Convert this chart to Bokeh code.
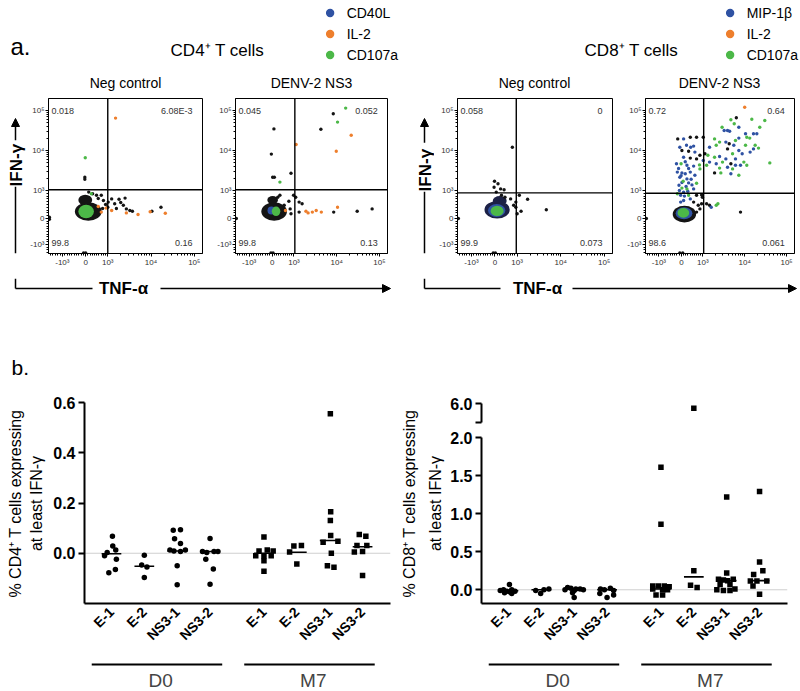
import math
from bokeh.plotting import figure
from bokeh.layouts import row, column
from bokeh.models import (Range1d, FixedTicker, CustomJSTickFormatter, PrintfTickFormatter,
                          Span, Label, Arrow, NormalHead, Legend, LegendItem)
from bokeh.embed import file_html
from bokeh.resources import INLINE

FONT = "Liberation Sans"
BLACK = "#141414"
NAVY = "#1c2146"
BLUE = "#2f52a3"
GREEN = "#4cb848"
ORANGE = "#ee7f2d"

# ------------------------------------------------------------------ data
FLOW_TICK_VALUES = [-1000, 0, 1000, 10000, 100000]
FLOW_TICK_LABELS = ["-10³", "0", "10³", "10⁴", "10⁵"]
CD4_LEGEND = ["CD40L", "IL-2", "CD107a"]
CD8_LEGEND = ["MIP-1β", "IL-2", "CD107a"]
PANEL_TITLES = ["Neg control", "DENV-2 NS3"]

# flow events in display units (one decade = 1 unit, 10^3 at 1)
CD4_NEG_BLACK = [(0.47, 1.33), (0.47, 1.28), (0.56, 0.96), (0.74, 0.88), (0.85, 0.88), (1.01, 0.71),
                 (1.09, 0.79), (1.26, 0.78), (1.40, 0.81), (1.16, 0.67), (1.36, 0.63), (1.43, 0.54),
                 (1.51, 0.50), (1.57, 0.48), (2.23, 0.58), (2.02, 0.48), (1.00, 0.58), (0.95, 0.65),
                 (1.20, 0.55), (0.88, 0.55), (0.90, 0.75), (1.30, 0.70), (0.65, 0.92), (0.78, 0.80),
                 (-0.35, 0.28), (-0.35, 0.33), (0.44, -0.56), (0.49, -0.56)]
CD4_NEG_ORANGE = [(1.18, 2.81), (1.70, 0.40), (2.33, 0.43), (1.98, 0.47), (1.43, 0.44), (1.09, 0.50),
                  (0.85, 0.46), (0.96, 0.56), (0.78, 0.60)]
CD4_NEG_GREEN = [(0.48, 1.82), (0.62, 0.92)]
CD4_NEG_BLOB_OUTER = [(0.55, 0.475, 0.62, 0.46), (0.48, 0.76, 0.32, 0.27)]
CD4_NEG_BLOB_CORE = [(0.50, 0.475, 0.36, 0.34)]
CD4_NEG_GATE = (1.00, 1.02)
CD4_NEG_QUADS = ["0.018", "6.08E-3", "99.8", "0.16"]

CD4_NS3_BLACK = [(0.53, 2.54), (0.47, 1.91), (0.50, 1.33), (0.54, 1.33), (0.93, 1.43), (1.63, 2.53),
                 (1.92, 2.92), (2.48, 0.48), (2.83, 0.54), (1.93, 0.46), (0.99, 0.88), (1.04, 0.83),
                 (1.12, 0.71), (1.19, 0.67), (0.91, 0.54), (1.12, 0.46), (0.88, 0.73), (0.77, 0.63),
                 (0.62, 0.83), (0.45, 0.79), (0.67, 0.88), (0.93, 0.42), (-0.35, 0.30), (0.46, -0.56),
                 (0.51, -0.56)]
CD4_NS3_ORANGE = [(2.34, 2.38), (1.99, 1.98), (1.05, 2.15), (2.02, 0.58), (1.64, 0.46), (1.52, 0.50),
                  (1.43, 0.46), (1.33, 0.44), (1.28, 0.48), (0.80, 0.50)]
CD4_NS3_GREEN = [(2.21, 3.06), (2.02, 2.71), (0.67, 1.21)]
CD4_NS3_BLOB_OUTER = [(0.535, 0.475, 0.60, 0.46), (0.50, 0.76, 0.25, 0.20)]
CD4_NS3_BLOB_MID = [(0.47, 0.50, 0.18, 0.20)]
CD4_NS3_BLOB_CORE = [(0.58, 0.48, 0.20, 0.24)]
CD4_NS3_GATE = (1.02, 1.02)
CD4_NS3_QUADS = ["0.045", "0.052", "99.8", "0.13"]

CD8_NEG_BLACK = [(0.89, 2.08), (0.48, 1.23), (0.56, 1.17), (0.47, 1.08), (0.62, 1.04), (0.70, 1.02),
                 (0.52, 0.96), (0.64, 0.88), (0.72, 0.83), (0.85, 0.79), (0.97, 0.71), (1.05, 0.88),
                 (1.24, 0.78), (0.92, 0.63), (0.97, 0.58), (1.09, 0.48), (1.67, 0.52), (1.00, 0.42),
                 (-0.35, 0.30), (0.45, -0.56), (0.50, -0.56)]
CD8_NEG_BLOB_OUTER = [(0.54, 0.52, 0.58, 0.44), (0.60, 0.74, 0.32, 0.24)]
CD8_NEG_BLOB_MID = [(0.53, 0.50, 0.40, 0.32)]
CD8_NEG_BLOB_CORE = [(0.54, 0.49, 0.30, 0.26)]
CD8_NEG_GATE = (0.98, 0.94)
CD8_NEG_QUADS = ["0.058", "0", "99.9", "0.073"]

CD8_NS3_BLACK = [(1.80, 2.82), (1.63, 2.17), (1.59, 2.04), (1.05, 1.92), (1.67, 1.67), (1.28, 1.44),
                 (0.40, 2.29), (0.70, 2.33), (0.85, 2.33), (1.01, 2.33), (0.50, 2.00), (0.66, 1.98),
                 (0.93, 1.88), (0.70, 1.81), (0.85, 1.79), (0.85, 0.88), (0.97, 0.89), (0.99, 0.83),
                 (0.78, 0.71), (0.89, 0.63), (0.97, 0.67), (1.09, 0.67), (1.16, 0.63), (0.93, 0.54),
                 (0.85, 0.46), (1.90, 0.46), (-0.35, 0.30), (0.45, -0.56), (0.52, -0.56)]
CD8_NS3_BLUE = [(1.86, 2.58), (1.51, 2.50), (1.59, 2.50), (1.64, 2.48), (2.02, 2.42), (2.21, 2.42),
                (2.29, 2.42), (1.86, 2.31), (1.55, 2.21), (1.16, 2.08), (1.74, 2.13), (2.21, 2.04),
                (1.86, 2.00), (2.13, 1.96), (1.94, 1.92), (1.40, 1.85), (1.55, 1.79), (1.78, 1.79),
                (1.32, 1.67), (1.78, 1.63), (1.16, 1.71), (1.59, 1.58), (1.67, 1.42), (1.01, 1.75),
                (1.90, 1.63), (0.54, 2.29), (0.45, 2.08), (0.61, 2.13), (0.71, 2.08), (0.78, 2.11),
                (0.81, 1.96), (0.54, 1.83), (0.37, 1.67), (0.62, 1.63), (0.78, 1.61), (0.39, 1.46),
                (0.50, 1.44), (0.58, 1.42), (0.70, 1.46), (0.81, 1.38), (0.45, 1.33), (0.62, 1.29),
                (0.66, 1.19), (0.74, 1.14), (0.43, 1.13), (0.78, 1.04), (0.54, 0.96), (0.47, 0.88),
                (0.70, 0.79), (0.54, 0.75), (0.47, 0.71), (1.20, 0.58), (0.42, 1.55), (0.58, 1.72),
                (0.66, 1.55), (0.50, 1.20), (0.60, 1.10), (0.44, 1.00), (0.64, 0.98), (0.56, 0.86),
                (0.72, 1.28), (0.48, 1.37)]
CD8_NS3_GREEN = [(1.67, 2.77), (1.75, 2.67), (2.48, 2.75), (2.17, 2.78), (2.36, 2.58), (1.46, 2.58),
                 (2.05, 2.33), (2.12, 2.31), (1.78, 2.25), (1.28, 2.29), (1.40, 2.21), (1.32, 2.13),
                 (2.02, 2.13), (2.25, 2.13), (2.33, 2.06), (1.71, 1.92), (1.12, 1.88), (1.28, 1.83),
                 (1.98, 1.71), (2.05, 1.63), (2.60, 1.69), (1.47, 1.71), (1.09, 1.63), (1.43, 1.44),
                 (1.40, 1.56), (1.86, 1.38), (0.93, 1.54), (1.71, 1.54), (0.48, 1.67), (0.92, 1.64),
                 (0.53, 1.23), (0.85, 1.18), (0.50, 1.06), (0.62, 1.04), (0.39, 0.92), (0.66, 0.88),
                 (1.36, 0.67), (1.32, 0.63)]
CD8_NS3_ORANGE = [(2.00, 3.08)]
CD8_NS3_BLOB_OUTER = [(0.56, 0.41, 0.56, 0.42)]
CD8_NS3_BLOB_MID = [(0.55, 0.43, 0.40, 0.30)]
CD8_NS3_BLOB_CORE = [(0.535, 0.44, 0.28, 0.24)]
CD8_NS3_GATE = (1.02, 0.93)
CD8_NS3_QUADS = ["0.72", "0.64", "98.6", "0.061"]

# panel b
CATEGORIES = ["E-1", "E-2", "NS3-1", "NS3-2"]
TIMEPOINTS = ["D0", "M7"]

CD4_D0_VALUES = [[0.068, 0.029, 0.013, 0.003, -0.010, -0.024, -0.065, -0.078],
                 [-0.008, -0.047, -0.055, -0.097],
                 [0.092, 0.094, 0.058, 0.039, 0.013, 0.009, 0.007, 0.013, -0.050, -0.125],
                 [0.059, 0.007, 0.003, 0.007, 0.007, -0.024, -0.063, -0.123]]
CD4_D0_OFFSETS = [[0.03, 0.04, 0.13, -0.13, -0.21, 0.15, 0.12, -0.08],
                  [0.0, -0.08, 0.08, 0.0],
                  [-0.12, 0.10, -0.08, 0.10, -0.22, -0.10, 0.10, 0.25, 0.0, 0.0],
                  [0.0, -0.23, -0.10, 0.12, 0.24, -0.13, 0.10, 0.0]]
CD4_M7_VALUES = [[0.065, 0.009, 0.013, 0.009, -0.010, -0.010, -0.010, -0.030, -0.072],
                 [0.029, 0.031, 0.005, -0.043],
                 [0.555, 0.165, 0.130, 0.071, 0.044, 0.048, 0.0, -0.050, -0.056],
                 [0.075, 0.068, 0.031, 0.031, 0.007, 0.005, -0.089]]
CD4_M7_OFFSETS = [[0.0, -0.15, 0.10, 0.28, -0.25, 0.0, 0.22, 0.0, 0.0],
                  [-0.09, 0.14, -0.22, 0.0],
                  [0.02, 0.03, 0.02, 0.03, -0.20, 0.25, 0.05, -0.07, 0.13],
                  [-0.10, 0.10, -0.17, 0.13, 0.0, -0.25, 0.0]]
CD4_D0_MEDIANS = [-0.002, -0.052, 0.009, 0.007]
CD4_M7_MEDIANS = [0.0, 0.004, 0.051, 0.026]

CD8_D0_VALUES = [[0.07, 0.0, 0.0, -0.01, -0.02, -0.02, -0.03, -0.04, -0.05],
                 [0.01, 0.0, -0.01, -0.05],
                 [0.03, 0.02, 0.01, 0.01, 0.0, 0.0, -0.01, -0.04, -0.10],
                 [0.02, 0.01, 0.0, -0.01, -0.05, -0.07, -0.10]]
CD8_D0_OFFSETS = [[0.03, -0.15, 0.10, -0.25, 0.20, -0.05, 0.05, -0.12, 0.10],
                  [0.23, 0.08, -0.17, -0.02],
                  [-0.20, -0.10, 0.05, 0.18, 0.28, -0.28, 0.0, -0.05, 0.0],
                  [0.10, -0.20, -0.08, 0.20, -0.22, 0.20, 0.0]]
CD8_M7_VALUES = [[1.61, 0.86, 0.05, 0.05, 0.05, 0.04, 0.01, 0.0, 0.0, -0.07, -0.07],
                 [5.75, 0.25, 0.06, 0.03],
                 [1.22, 0.22, 0.14, 0.13, 0.12, 0.14, 0.07, 0.07, 0.0, -0.01, -0.01, 0.01],
                 [1.29, 0.365, 0.20, 0.25, 0.117, 0.117, 0.117, 0.05, -0.057]]
CD8_M7_OFFSETS = [[0.0, 0.0, -0.25, -0.08, 0.10, 0.25, -0.25, 0.05, 0.20, -0.15, 0.05],
                  [0.0, 0.0, -0.10, 0.10],
                  [0.0, 0.0, -0.25, -0.10, 0.03, 0.20, -0.20, 0.10, -0.30, -0.10, 0.10, 0.25],
                  [0.0, 0.0, -0.18, 0.10, -0.28, -0.08, 0.22, -0.20, 0.0]]
CD8_D0_MEDIANS = [-0.013, 0.0, 0.01, 0.0]
CD8_M7_MEDIANS = [0.01, 0.17, 0.12, 0.12]

# ------------------------------------------------------------------ helpers
FMT_CODE = """
for (let i = 0; i < pos.length; i++) { if (Math.abs(pos[i] - tick) < 1e-6) return labs[i]; }
return "";
"""


def xdisp(v):
    if v >= 1000:
        return 1 + math.log10(v / 1000)
    if v >= 0:
        return 0.49 + 0.51 * v / 1000
    return 0.49 + 0.54 * v / 1000


def ydisp(v):
    if v >= 1000:
        return 1 + math.log10(v / 1000)
    if v >= 0:
        return 0.3 + 0.7 * v / 1000
    return 0.3 + 0.65 * v / 1000


LIN_MINOR = [k * 100 for k in range(-15, 10) if k % 10 != 0]
LOG_MINOR = [d * k for d in (1e3, 1e4, 1e5) for k in range(2, 10) if d * k <= 1.5e5]
X_MAJOR = [round(xdisp(v), 6) for v in FLOW_TICK_VALUES]
Y_MAJOR = [round(ydisp(v), 6) for v in FLOW_TICK_VALUES]
X_MINOR = [xdisp(v) for v in LIN_MINOR + LOG_MINOR]
Y_MINOR = [ydisp(v) for v in LIN_MINOR + LOG_MINOR]
FLOW_XR = (-0.37, 3.19)
FLOW_YR = (-0.575, 3.3)


def label(p, x, y, text, size, align="center", bold=False, angle=0.0, color="black"):
    p.add_layout(Label(x=x, y=y, text=text, text_font=FONT, text_font_size=f"{size}px",
                       text_align=align, text_baseline="middle", angle=angle,
                       text_font_style="bold" if bold else "normal", text_color=color))


def deco(width, height, xr, yr):
    p = figure(width=width, height=height, x_range=Range1d(*xr), y_range=Range1d(*yr),
               x_axis_type=None, y_axis_type=None, output_backend="svg",
               toolbar_location=None, min_border=0)
    p.outline_line_color = None
    return p


def unzip(pts):
    return [a for a, _ in pts], [b for _, b in pts]


def flow_panel(width, bl, br, layers, points, gate, quads):
    p = figure(width=width, height=186, x_range=Range1d(*FLOW_XR), y_range=Range1d(*FLOW_YR),
               output_backend="svg", toolbar_location=None, min_border=0,
               min_border_left=bl, min_border_right=br, min_border_top=6, min_border_bottom=25)
    p.grid.visible = False
    p.outline_line_color = "black"
    p.outline_line_width = 1
    for ax, major, minor in ((p.xaxis[0], X_MAJOR, X_MINOR), (p.yaxis[0], Y_MAJOR, Y_MINOR)):
        ax.ticker = FixedTicker(ticks=major, minor_ticks=minor)
        ax.formatter = CustomJSTickFormatter(args=dict(pos=major, labs=FLOW_TICK_LABELS), code=FMT_CODE)
        ax.major_label_text_font_size = "8px"
        ax.major_label_text_font = FONT
        ax.major_label_text_color = "#333333"
        ax.major_tick_in = 0
        ax.major_tick_out = 3
        ax.minor_tick_in = 0
        ax.minor_tick_out = 2
        ax.major_label_standoff = 1
        ax.axis_line_color = "black"
    for blobs, color in layers:
        for bx, by, bw, bh in blobs:
            p.ellipse(x=[bx], y=[by], width=[bw], height=[bh], fill_color=color, line_color=None)
    for pts, color in points:
        xs, ys = unzip(pts)
        p.scatter(x=xs, y=ys, size=3.4, marker="circle", fill_color=color, line_color=None)
    p.add_layout(Span(location=gate[0], dimension="height", line_color="black", line_width=1.4))
    p.add_layout(Span(location=gate[1], dimension="width", line_color="black", line_width=1.4))
    xl, xr_ = FLOW_XR[0] + 0.07, FLOW_XR[1] - 0.23
    yt, yb = FLOW_YR[1] - 0.30, FLOW_YR[0] + 0.275
    for (x, y, al), t in zip(((xl, yt, "left"), (xr_, yt, "right"), (xl, yb, "left"), (xr_, yb, "right")), quads):
        label(p, x, y, t, 9, align=al, color="#333333")
    return p


def header(x0, title, title_x, subs, legend_labels, letter=None):
    p = deco(400, 92, (x0, x0 + 400), (92, 0))
    if letter:
        label(p, x0 + 10, 46, letter, 24, align="left")
    label(p, title_x, 50, title, 17)
    for sx, st in subs:
        label(p, sx, 82, st, 14)
    # legend swatches: one off-canvas point each so the legend can draw its glyph
    rs = [p.scatter(x=[x0 - 500], y=[-500], marker="circle", size=10, fill_color=c, line_color=None)
          for c in (BLUE, ORANGE, GREEN)]
    leg = Legend(items=[LegendItem(label=l, renderers=[r]) for l, r in zip(legend_labels, rs)],
                 location="top_right", orientation="vertical", glyph_width=26, glyph_height=21,
                 label_text_font_size="14px", label_text_font=FONT, label_text_color="black",
                 label_standoff=4, spacing=0, padding=0, margin=2, border_line_color=None,
                 background_fill_alpha=0)
    p.add_layout(leg)
    return p


def ifn_deco(x0, width, xa, label_y, top_gap, bot_gap):
    p = deco(width, 186, (x0, x0 + width), (278, 92))
    p.add_layout(Arrow(end=NormalHead(size=8, fill_color="black", line_color="black"),
                       x_start=xa, y_start=top_gap, x_end=xa, y_end=116, line_width=1.5))
    p.segment(x0=[xa], y0=[bot_gap], x1=[xa], y1=[278], line_width=1.5, line_color="black")
    label(p, xa + 1, label_y, "IFN-γ", 17, bold=True, angle=math.pi / 2)
    return p


def tnf_deco(x0, xa, seg_end, text_x, arrow_start, arrow_end):
    p = deco(400, 22, (x0, x0 + 400), (300, 278))
    p.segment(x0=[xa, xa], y0=[278, 288], x1=[xa, seg_end], y1=[288, 288], line_width=1.5, line_color="black")
    p.add_layout(Arrow(end=NormalHead(size=8, fill_color="black", line_color="black"),
                       x_start=arrow_start, y_start=288, x_end=arrow_end, y_end=288, line_width=1.5))
    label(p, text_x, 288, "TNF-α", 17, bold=True)
    return p


# ------------------------------------------------------------------ panel a
f1 = flow_panel(188, 22, 12, [(CD4_NEG_BLOB_OUTER, BLACK), (CD4_NEG_BLOB_CORE, GREEN)],
                [(CD4_NEG_BLACK, BLACK), (CD4_NEG_ORANGE, ORANGE), (CD4_NEG_GREEN, GREEN)],
                CD4_NEG_GATE, CD4_NEG_QUADS)
f2 = flow_panel(186, 21, 13, [(CD4_NS3_BLOB_OUTER, BLACK), (CD4_NS3_BLOB_MID, BLUE), (CD4_NS3_BLOB_CORE, GREEN)],
                [(CD4_NS3_BLACK, BLACK), (CD4_NS3_ORANGE, ORANGE), (CD4_NS3_GREEN, GREEN)],
                CD4_NS3_GATE, CD4_NS3_QUADS)
f3 = flow_panel(190, 23, 12, [(CD8_NEG_BLOB_OUTER, NAVY), (CD8_NEG_BLOB_MID, BLUE), (CD8_NEG_BLOB_CORE, GREEN)],
                [(CD8_NEG_BLACK, BLACK)], CD8_NEG_GATE, CD8_NEG_QUADS)
f4 = flow_panel(176, 20, 6, [(CD8_NS3_BLOB_OUTER, BLACK), (CD8_NS3_BLOB_MID, BLUE), (CD8_NS3_BLOB_CORE, GREEN)],
                [(CD8_NS3_BLACK, BLACK), (CD8_NS3_BLUE, BLUE), (CD8_NS3_GREEN, GREEN), (CD8_NS3_ORANGE, ORANGE)],
                CD8_NS3_GATE, CD8_NS3_QUADS)

h_left = header(0, "CD4⁺ T cells", 217, [(125, PANEL_TITLES[0]), (311, PANEL_TITLES[1])], CD4_LEGEND, letter="a.")
h_right = header(400, "CD8⁺ T cells", 631, [(534, PANEL_TITLES[0]), (719, PANEL_TITLES[1])], CD8_LEGEND)

top_left = column(h_left, row(ifn_deco(0, 26, 15, 172, 142, 198), f1, f2),
                  tnf_deco(0, 15, 92, 123, 160, 390))
top_right = column(h_right, row(ifn_deco(400, 34, 424, 178, 145, 204), f3, f4),
                   tnf_deco(400, 424, 500, 537, 572, 796))

# ------------------------------------------------------------------ panel b
GAP = 0.64
POS = [g * (len(CATEGORIES) + GAP) + i for g in range(len(TIMEPOINTS)) for i in range(len(CATEGORIES))]
XR = (POS[0] - 0.82, POS[-1] + 0.85)
TICK_LABELS = CATEGORIES * len(TIMEPOINTS)


def style_y(ax, ticks, labs=None):
    ax.ticker = FixedTicker(ticks=ticks, minor_ticks=[])
    if labs is None:
        ax.formatter = PrintfTickFormatter(format="%.1f")
    else:
        ax.formatter = CustomJSTickFormatter(args=dict(pos=ticks, labs=labs), code=FMT_CODE)
    ax.axis_line_width = 2
    ax.major_tick_line_width = 2
    ax.major_tick_out = 6
    ax.major_tick_in = 0
    ax.major_label_text_font_size = "16px"
    ax.major_label_text_font = FONT
    ax.major_label_text_font_style = "bold"
    ax.major_label_text_color = "black"
    ax.major_label_standoff = 3


def dot_fig(width, height, xr, yr, bl, br, bt, bb, show_x=True):
    p = figure(width=width, height=height, x_range=xr, y_range=Range1d(*yr),
               output_backend="svg", toolbar_location=None, min_border=0,
               min_border_left=bl, min_border_right=br, min_border_top=bt, min_border_bottom=bb)
    p.grid.visible = False
    p.outline_line_color = None
    xa = p.xaxis[0]
    if show_x:
        xa.ticker = FixedTicker(ticks=POS, minor_ticks=[])
        xa.formatter = CustomJSTickFormatter(args=dict(pos=POS, labs=TICK_LABELS), code=FMT_CODE)
        xa.major_label_orientation = math.pi / 4
        xa.major_tick_line_color = None
        xa.major_tick_out = 0
        xa.major_tick_in = 0
        xa.axis_line_width = 2
        xa.major_label_text_font_size = "14px"
        xa.major_label_text_font = FONT
        xa.major_label_text_font_style = "bold"
        xa.major_label_text_color = "black"
        xa.major_label_standoff = 6
    else:
        xa.visible = False
    return p


def add_dots(p, values, offsets, medians, lo, hi):
    for g in range(len(TIMEPOINTS)):
        xs, ys = [], []
        for i in range(len(CATEGORIES)):
            base = POS[g * len(CATEGORIES) + i]
            for v, o in zip(values[g][i], offsets[g][i]):
                if lo <= v <= hi:
                    xs.append(base + o)
                    ys.append(v)
        p.scatter(x=xs, y=ys, marker="circle" if g == 0 else "square",
                  size=5.5, fill_color="black", line_color=None)
        if medians is not None:
            m = medians[g]
            bases = POS[g * len(CATEGORIES):(g + 1) * len(CATEGORIES)]
            p.segment(x0=[b - 0.3 for b in bases], x1=[b + 0.3 for b in bases], y0=m, y1=m,
                      line_width=1.6, line_color="black")


def group_strip(width, xr, bl, br):
    p = figure(width=width, height=40, x_range=xr, y_range=Range1d(40, 0),
               x_axis_type=None, y_axis_type=None, output_backend="svg",
               toolbar_location=None, min_border=0, min_border_left=bl, min_border_right=br)
    p.outline_line_color = None
    n = len(CATEGORIES)
    for g, name in enumerate(TIMEPOINTS):
        first, last = POS[g * n], POS[g * n + n - 1]
        p.segment(x0=[first - 0.6], x1=[last + 0.37], y0=[13], y1=[13], line_width=2, line_color="black")
        p.add_layout(Label(x=(first + last) / 2, y=29, text=name, text_font=FONT, text_font_size="19px",
                           text_align="center", text_baseline="middle"))
    return p


def ylabel_fig(x0, width, x1, x2, line1):
    p = deco(width, 305, (x0, x0 + width), (691, 386))
    label(p, x1, 503, line1, 16, angle=math.pi / 2)
    label(p, x2, 503, "at least IFN-γ", 16, angle=math.pi / 2)
    return p


# CD4
xr4 = Range1d(*XR)
cd4 = dot_fig(350, 265, xr4, (-0.2, 0.6), 34, 10, 16, 46)
style_y(cd4.yaxis[0], [0.0, 0.2, 0.4, 0.6])
cd4.add_layout(Span(location=0, dimension="width", line_color="#cfcfcf", line_width=1, level="underlay"))
add_dots(cd4, [CD4_D0_VALUES, CD4_M7_VALUES], [CD4_D0_OFFSETS, CD4_M7_OFFSETS],
         [CD4_D0_MEDIANS, CD4_M7_MEDIANS], -1, 1)
bottom_left = row(ylabel_fig(0, 50, 15, 36, "% CD4⁺ T cells expressing"),
                  column(cd4, group_strip(350, xr4, 34, 10)))

# CD8 (broken axis)
xr8 = Range1d(*XR)
cd8_top = dot_fig(354, 39, xr8, (5.0, 6.0), 35, 13, 17, 3, show_x=False)
style_y(cd8_top.yaxis[0], [5.0, 6.0], ["", "6.0"])
add_dots(cd8_top, [CD8_D0_VALUES, CD8_M7_VALUES], [CD8_D0_OFFSETS, CD8_M7_OFFSETS], None, 2.0001, 10)
cd8 = dot_fig(354, 226, xr8, (-0.18, 2.0), 35, 13, 12, 46)
style_y(cd8.yaxis[0], [0.0, 0.5, 1.0, 1.5, 2.0])
cd8.add_layout(Span(location=0, dimension="width", line_color="#cfcfcf", line_width=1, level="underlay"))
add_dots(cd8, [CD8_D0_VALUES, CD8_M7_VALUES], [CD8_D0_OFFSETS, CD8_M7_OFFSETS],
         [CD8_D0_MEDIANS, CD8_M7_MEDIANS], -1, 2.0)
bottom_right = row(ylabel_fig(400, 46, 409, 435, "% CD8⁺ T cells expressing"),
                   column(cd8_top, cd8, group_strip(354, xr8, 35, 13)))

b_header = deco(800, 86, (0, 800), (386, 300))
label(b_header, 11, 367, "b.", 21, align="left")

page = column(row(top_left, top_right), b_header, row(bottom_left, bottom_right))

with open("out.html", "w") as fh:
    fh.write(file_html(page, INLINE))
